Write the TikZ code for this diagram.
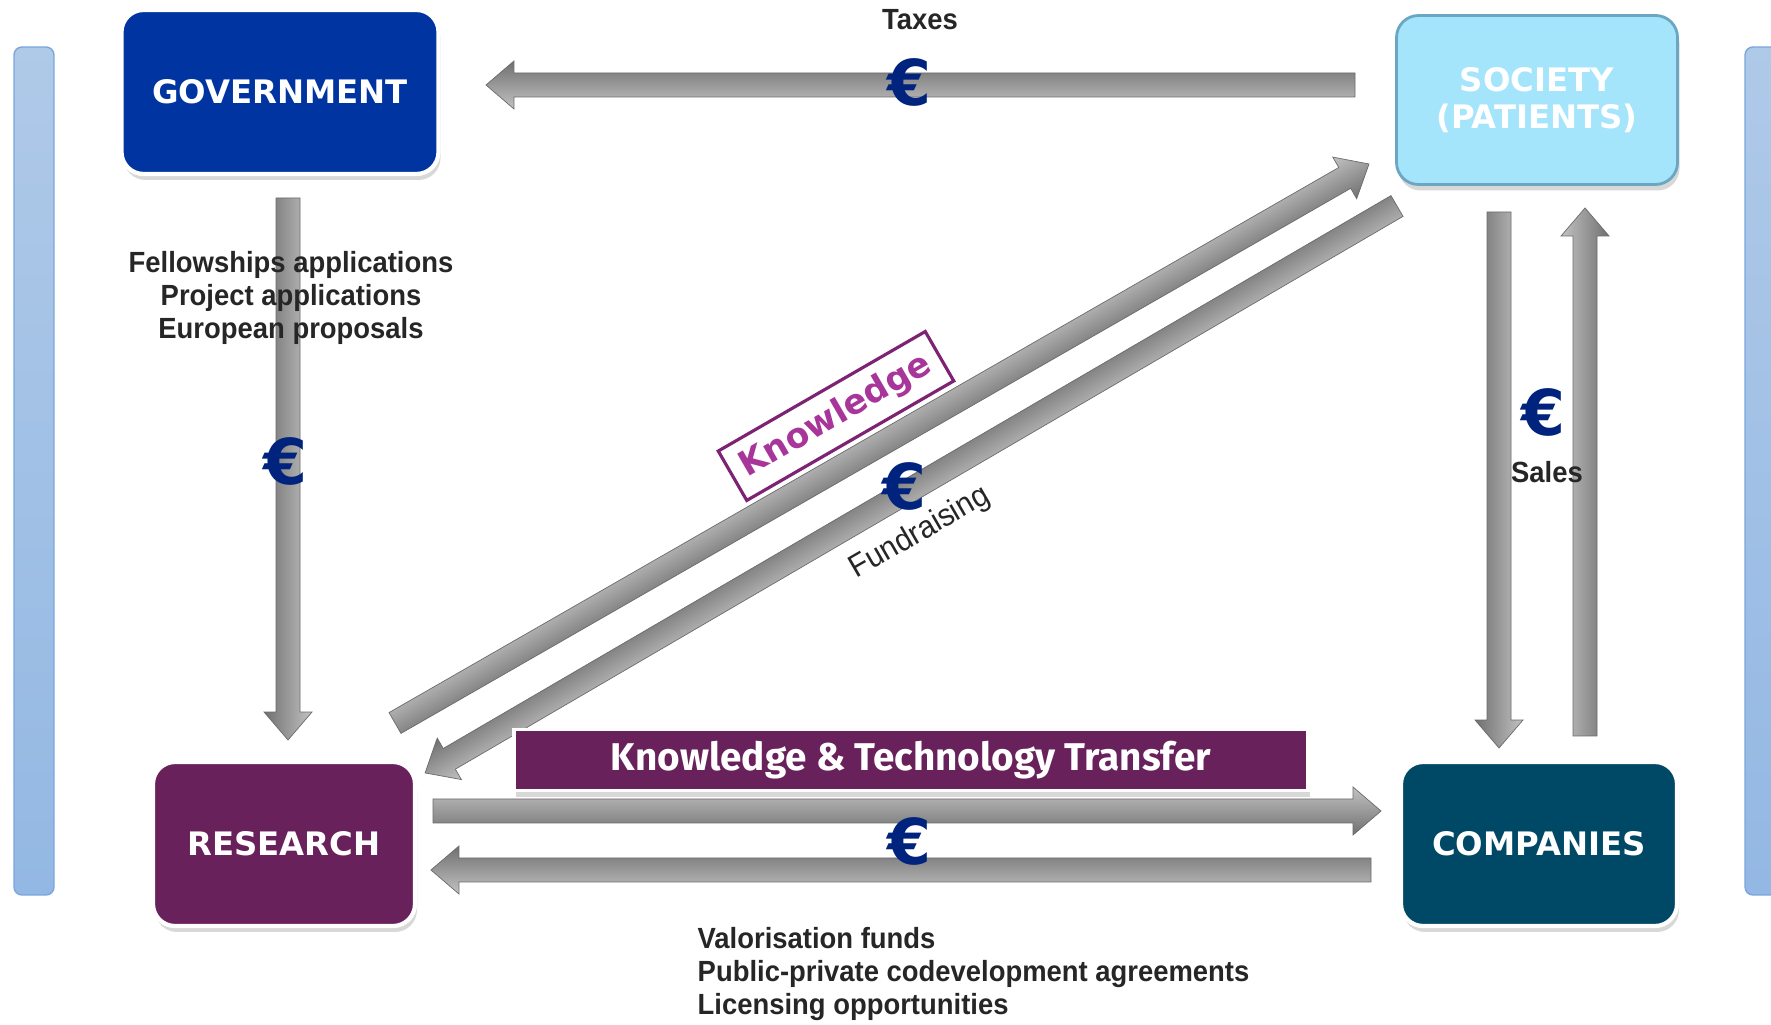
\documentclass[tikz,border=0pt]{standalone}
\usepackage{fontspec}
\setmainfont{Liberation Sans}
\newfontfamily\boxfont{DejaVu Sans}
\newfontfamily\bannerfont{Fira Sans}
\newfontfamily\labelfont{Liberation Sans}[FakeStretch = 0.94]
\usetikzlibrary{shadows}

\definecolor{govblue}{HTML}{0035A1}
\definecolor{socblue}{HTML}{A5E5FB}
\definecolor{socedge}{HTML}{6BA7C2}
\definecolor{respurple}{HTML}{68215A}
\definecolor{compteal}{HTML}{004966}
\definecolor{euroblue}{HTML}{00237D}
\definecolor{bartop}{HTML}{AFC9E8}
\definecolor{barbot}{HTML}{93B8E3}
\definecolor{baredge}{HTML}{7AA7DB}
\definecolor{knowpurple}{HTML}{7E2374}
\definecolor{knowtext}{HTML}{A8359A}
\definecolor{labelgray}{HTML}{262626}

\newcommand{\blockarrow}[2]{%
    \path (#1); \pgfgetlastxy{\arax}{\aray}
    \path (#2); \pgfgetlastxy{\arbx}{\arby}
    \pgfmathsetmacro{\arang}{atan2((\arby)-(\aray), (\arbx)-(\arax))}
    \pgfmathsetmacro{\arlen}{veclen((\arbx)-(\arax), (\arby)-(\aray))/0.2845274}
    \begin{scope}[transform canvas = {shift = {(\arax, \aray)}, rotate = \arang}, x = 0.1mm, y = 0.1mm]
        \shade[top color = black!24, middle color = black!48, bottom color = black!56, draw = black!58, line width = 0.2pt]
            (0, -12) -- (\arlen-28, -12) -- (\arlen-28, -24) -- (\arlen, 0) -- (\arlen-28, 24) -- (\arlen-28, 12) -- (0, 12) -- cycle;
    \end{scope}}

\begin{document}
\begin{tikzpicture}[x = 0.1mm, y = -0.1mm,
        actor/.style = {rounded corners = 2.2mm, text = white, align = center, draw = white, line width = 1.2pt,
            font = \boxfont\bfseries\fontsize{9.2}{10.5}\selectfont,
            drop shadow = {shadow xshift = 0.2mm, shadow yshift = -0.6mm, opacity = 0.3}},
        euro/.style = {text = euroblue, inner sep = 0pt, font = \boxfont\bfseries\fontsize{18}{18}\selectfont},
        flowlabel/.style = {text = labelgray, inner sep = 0pt, font = \labelfont\bfseries\fontsize{8.3}{9.4}\selectfont}]
        \fill[white] (0, 0) rectangle (1771, 1025);
        \useasboundingbox (0, 0) rectangle (1771, 1025);
        \shade[top color = bartop, bottom color = barbot, draw = baredge, rounded corners = 0.8mm] (14, 47) rectangle (54, 895);
        \shade[top color = bartop, bottom color = barbot, draw = baredge, rounded corners = 0.8mm] (1745, 47) rectangle (1795, 895);

        \coordinate (taxA) at (1355, 85);
        \coordinate (taxB) at (486, 85);
        \coordinate (grantA) at (288, 198);
        \coordinate (grantB) at (288, 740);
        \coordinate (knowA) at (395, 723);
        \coordinate (knowB) at (1369, 164);
        \coordinate (raiseA) at (1397, 206);
        \coordinate (raiseB) at (425, 773);
        \coordinate (saleA) at (1499, 212);
        \coordinate (saleB) at (1499, 748);
        \coordinate (buyA) at (1585, 736);
        \coordinate (buyB) at (1585, 208);
        \coordinate (transA) at (433, 811);
        \coordinate (transB) at (1381, 811);
        \coordinate (valA) at (1371, 870);
        \coordinate (valB) at (431, 870);

        \blockarrow{taxA}{taxB}
        \blockarrow{grantA}{grantB}
        \blockarrow{knowA}{knowB}
        \blockarrow{raiseA}{raiseB}
        \blockarrow{saleA}{saleB}
        \blockarrow{buyA}{buyB}
        \blockarrow{transA}{transB}
        \blockarrow{valA}{valB}

        \node[actor, fill = govblue, minimum width = 31.7mm, minimum height = 16.4mm] (gov) at (280, 92) {GOVERNMENT};
        \node[actor, fill = socblue, draw = socedge, line width = 0.8pt, minimum width = 28.1mm, minimum height = 16.9mm] (soc) at (1537, 100) {SOCIETY\\(PATIENTS)};
        \node[actor, fill = respurple, minimum width = 26.2mm, minimum height = 16.4mm] (res) at (284, 844) {RESEARCH};
        \node[actor, fill = compteal, minimum width = 27.6mm, minimum height = 16.4mm] (comp) at (1539, 844) {COMPANIES};
        \node[actor, fill = respurple, rounded corners = 0pt, line width = 0.9pt, minimum width = 79.4mm, minimum height = 5.2mm,
            font = \bannerfont\bfseries\fontsize{11}{12}\selectfont] (ktt) at (911, 760) {Knowledge \& Technology Transfer};

        \node[draw = knowpurple, fill = white, line width = 0.9pt, rotate = 30, minimum width = 23.9mm, minimum height = 5.4mm,
            text = knowtext, font = \boxfont\bfseries\fontsize{9.8}{10}\selectfont] (know) at (836, 416) {Knowledge};
        \node[text = labelgray, rotate = 30, font = \labelfont\fontsize{9}{9}\selectfont] (fundraising) at (920, 533) {Fundraising};

        \node[flowlabel] (taxes) at (920, 20) {Taxes};
        \node[flowlabel, align = center] (apps) at (291, 298) {Fellowships applications\\Project applications\\European proposals};
        \node[flowlabel] (sales) at (1547, 472) {Sales};
        \node[flowlabel, align = left, anchor = west] (valor) at (697, 974) {Valorisation funds\\Public-private codevelopment agreements\\Licensing opportunities};

        \node[euro] (eurotax) at (909, 82) {€};
        \node[euro] (eurogov) at (286, 461) {€};
        \node[euro] (euroraise) at (904, 486) {€};
        \node[euro] (eurosale) at (1543, 412) {€};
        \node[euro] (eurotrans) at (909, 841) {€};
\end{tikzpicture}
\end{document}
